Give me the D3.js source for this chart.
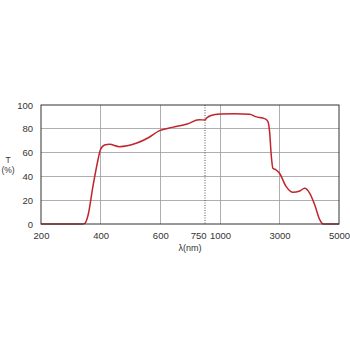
<!DOCTYPE html>
<meta charset="utf-8">
<style>
html,body {
  margin:0px;
  padding:0px;
  background-color:white;
  overflow:hidden;
}
text {
  font-family:"Liberation Sans", Arial, sans-serif;
  fill:#333;
}
.grid line {
  stroke:#9a9a9a;
  stroke-width:0.8px;
  shape-rendering:crispEdges;
}
.tick text { font-size:9.5px; }
</style>
<body>
<svg></svg>
</body>
<script src="https://cdn.jsdelivr.net/npm/d3@7"></script>
<script>

// break points of the x axis and their labels
var xTicks = [200, 400, 600, 750, 1000, 3000, 5000];
var yTicks = [0, 20, 40, 60, 80, 100];

// transmission curve
var wavelength = [200, 340, 347, 358, 374, 391, 399, 413, 430, 463, 519, 560, 596, 640, 690, 730, 750, 778, 850, 1000, 1500, 2000, 2200, 2500, 2611, 2667, 2722, 2778, 2889, 3000, 3226, 3452, 3678, 3847, 4017, 4186, 4356, 4469, 5000];
var transmittance = [0, 0, 0.5, 7.6, 31.4, 53.8, 62.2, 66.4, 67, 65, 67.8, 72.5, 78.2, 81.2, 84, 87.6, 87.4, 89, 91.2, 92.4, 92.7, 92.2, 90.2, 88.5, 86, 77.6, 58, 46.8, 45.4, 42.6, 31.4, 26.6, 27.7, 30, 25.8, 16, 3.4, 0, 0];

var W = 350, H = 350;
var svg = d3.select("svg").attr("width", W).attr("height", H);

// piecewise axis: linear pieces between 200-750, 750-1000, 1000-5000
var x = d3.scaleLinear()
  .domain([200, 750, 1000, 5000])
  .range([41, 205, 220, 339]);
var y = d3.scaleLinear().domain([0, 100]).range([224, 105]);

var grid = svg.append("g").attr("class", "grid");
grid.selectAll(".h").data(yTicks.slice(1, -1)).enter().append("line")
  .attr("x1", 41).attr("x2", 339)
  .attr("y1", function(d){ return y(d); }).attr("y2", function(d){ return y(d); });
grid.selectAll(".v").data([400, 600, 1000, 3000]).enter().append("line")
  .attr("y1", 105).attr("y2", 224)
  .attr("x1", function(d){ return x(d); }).attr("x2", function(d){ return x(d); });

svg.append("line")
  .attr("x1", x(750)).attr("x2", x(750))
  .attr("y1", 105).attr("y2", 224)
  .attr("stroke", "#555")
  .attr("stroke-width", 1)
  .attr("stroke-dasharray", "1,1.5");

var line = d3.line()
  .x(function(d){ return x(d[0]); })
  .y(function(d){ return y(d[1]); })
  .curve(d3.curveMonotoneX);

svg.append("path")
  .datum(d3.zip(wavelength, transmittance))
  .attr("d", line)
  .attr("fill", "none")
  .attr("stroke", "#c0252b")
  .attr("stroke-width", 1.5);

svg.append("rect")
  .attr("x", 41).attr("y", 105)
  .attr("width", 298).attr("height", 119)
  .attr("fill", "none")
  .attr("stroke", "#333")
  .attr("stroke-width", 1);

var xAxis = svg.append("g")
  .attr("transform", "translate(0,224)")
  .call(d3.axisBottom(x).tickValues(xTicks).tickSize(0).tickPadding(8).tickFormat(d3.format("d")));
xAxis.select(".domain").remove();
// 750 and 1000 sit close together: push the 750 label to the left of its line
xAxis.selectAll(".tick text")
  .filter(function(d){ return d === 750; })
  .attr("text-anchor", "end")
  .attr("dx", "1px");
xAxis.selectAll(".tick text")
  .filter(function(d){ return d === 1000; })
  .attr("dx", "0px");

var yAxis = svg.append("g")
  .attr("transform", "translate(41,0)")
  .call(d3.axisLeft(y).tickValues(yTicks).tickSize(0).tickPadding(8));
yAxis.select(".domain").remove();

svg.append("text")
  .attr("x", 190).attr("y", 251)
  .attr("text-anchor", "middle")
  .attr("font-size", "9px")
  .text("λ(nm)");

svg.append("text")
  .attr("x", 8).attr("y", 163)
  .attr("text-anchor", "middle")
  .attr("font-size", "8.5px")
  .text("T");
svg.append("text")
  .attr("x", 8).attr("y", 173)
  .attr("text-anchor", "middle")
  .attr("font-size", "8.5px")
  .text("(%)");

</script>
